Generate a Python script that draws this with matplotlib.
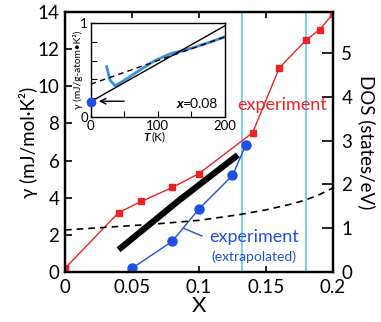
import matplotlib
matplotlib.use("Agg")
import matplotlib.pyplot as plt

plt.rcParams['font.family'] = ['Lato', 'DejaVu Sans']

# ---- main data (x = composition) ----
red_x = [0, 0.04, 0.057, 0.08, 0.1, 0.14, 0.16, 0.18, 0.19, 0.2]
red_gamma = [0.2, 3.2, 3.8, 4.55, 5.3, 7.5, 11.0, 12.5, 13.05, 13.9]

blue_x = [0.05, 0.08, 0.1, 0.125, 0.135]
blue_gamma = [0.2, 1.65, 3.4, 5.2, 6.85]

thick_x = [0.04, 0.085, 0.129]
thick_gamma = [1.2, 3.85, 6.3]

dos_x = [0, 0.03, 0.065, 0.1, 0.13, 0.15, 0.17, 0.18, 0.19, 0.2]
dos_vals = [0.96, 1.02, 1.09, 1.18, 1.31, 1.42, 1.56, 1.65, 1.77, 1.92]

vlines_x = [0.132, 0.18]

x_ticks = [0, 0.05, 0.1, 0.15, 0.2]
x_ticklabels = ['0', '0.05', '0.1', '0.15', '0.2']
y_ticks = [0, 2, 4, 6, 8, 10, 12, 14]
dos_ticks = [0, 1, 2, 3, 4, 5]

# ---- inset data ----
inset_T_line = [0, 200]
inset_solid = [0.165, 0.968]
inset_dashed = [0.35, 0.85]
inset_blue_T = [23.8, 28.7, 36.2, 50, 66, 80, 95.8, 110, 120.6, 135, 150.4, 165, 180, 200]
inset_blue_y = [0.535, 0.394, 0.334, 0.39, 0.465, 0.53, 0.6, 0.645, 0.677, 0.70, 0.73, 0.765, 0.8, 0.852]
inset_dot_T = [0]
inset_dot_y = [0.165]

RED = '#ee2222'
BLUE = '#1f4fe6'
CYAN = '#5cc8ec'
LBLUE = '#3a8ee0'

fig = plt.figure(figsize=(3.81, 3.22), dpi=100)
ax = fig.add_axes([0.1706, 0.1553, 0.7034, 0.8074])
ax.set_xlim(0, 0.2)
ax.set_ylim(0, 14)
ax2 = ax.twinx()
ax2.set_ylim(0, 14 / 2.357)

for xv in vlines_x:
    ax.axvline(xv, color=CYAN, lw=1.2, zorder=1)

ax.plot(thick_x, thick_gamma, color='black', lw=4.5, solid_capstyle='butt', zorder=3)
ax.plot(red_x, red_gamma, color=RED, lw=1.0, marker='s', ms=4, zorder=4)
ax.plot(blue_x, blue_gamma, color=BLUE, lw=1.0, marker='o', ms=6.5, zorder=4)
ax2.plot(dos_x, dos_vals, color='black', lw=1.2, ls=(0, (4, 3)), zorder=2)

ax.plot([0.0883, 0.1022], [2.36, 1.94], color=BLUE, lw=1.0, zorder=4)
ax.text(0.1623, 8.99, 'experiment', color=RED, fontsize=13, ha='center', va='center')
ax.text(0.141, 1.88, 'experiment', color=BLUE, fontsize=13, ha='center', va='center')
ax.text(0.141, 0.81, '(extrapolated)', color=BLUE, fontsize=10, ha='center', va='center')

ax.set_xticks(x_ticks)
ax.set_xticklabels(x_ticklabels)
ax.set_yticks(y_ticks)
ax2.set_yticks(dos_ticks)
ax.tick_params(axis='x', direction='in', length=4, width=1.2, labelsize=13.5, pad=5, top=True)
ax.tick_params(axis='y', direction='in', length=5, width=1.2, labelsize=13.5, pad=4)
ax2.tick_params(axis='y', direction='in', length=8, width=1.2, labelsize=13.5, pad=6)
for a in (ax, ax2):
    for s in a.spines.values():
        s.set_linewidth(1.6)

ax.set_xlabel('X', fontsize=16, labelpad=0)
ax.set_ylabel('γ (mJ/mol·K²)', fontsize=13.5, labelpad=0)
ax2.set_ylabel('DOS (states/eV)', fontsize=13.5, rotation=-90, labelpad=17)

# ---- inset ----
axi = fig.add_axes([0.238, 0.6357, 0.3525, 0.2938])
axi.set_zorder(5)
axi.set_facecolor('white')
axi.set_xlim(0, 200)
axi.set_ylim(0, 1)
axi.plot(inset_T_line, inset_solid, color='black', lw=1.0, zorder=3)
axi.plot(inset_T_line, inset_dashed, color='black', lw=1.0, ls=(0, (4, 3)), zorder=4)
axi.plot(inset_blue_T, inset_blue_y, color=LBLUE, lw=2.0, zorder=2)
axi.plot(inset_dot_T, inset_dot_y, 'o', color=BLUE, ms=6, clip_on=False, zorder=5)
axi.annotate('', xy=(8, 0.17), xytext=(54, 0.17),
             arrowprops=dict(arrowstyle='->', color='black', lw=1.0))
axi.set_xticks([0, 50, 100, 150, 200])
axi.set_xticklabels(['0', '', '100', '', '200'])
axi.set_yticks([0, 0.2, 0.4, 0.6, 0.8, 1.0])
axi.set_yticklabels(['0', '', '', '', '', '1'])
axi.tick_params(direction='in', length=4, width=0.8, labelsize=9.5, pad=2)
for s in axi.spines.values():
    s.set_linewidth(1.0)
axi.set_ylabel('γ (mJ/g-atom•K²)', fontsize=7.3, labelpad=-2)
axi.text(0.44, -0.21, 'T', fontsize=8.5, fontweight='bold', style='italic',
         ha='right', va='center', transform=axi.transAxes)
axi.text(0.455, -0.21, '(K)', fontsize=8.5, ha='left', va='center', transform=axi.transAxes)
axi.text(0.69, 0.14, 'x', fontsize=10, fontweight='bold', style='italic',
         ha='right', va='center', transform=axi.transAxes)
axi.text(0.948, 0.14, '=0.08', fontsize=10, ha='right', va='center', transform=axi.transAxes)

fig.savefig('out.png', dpi=100)
